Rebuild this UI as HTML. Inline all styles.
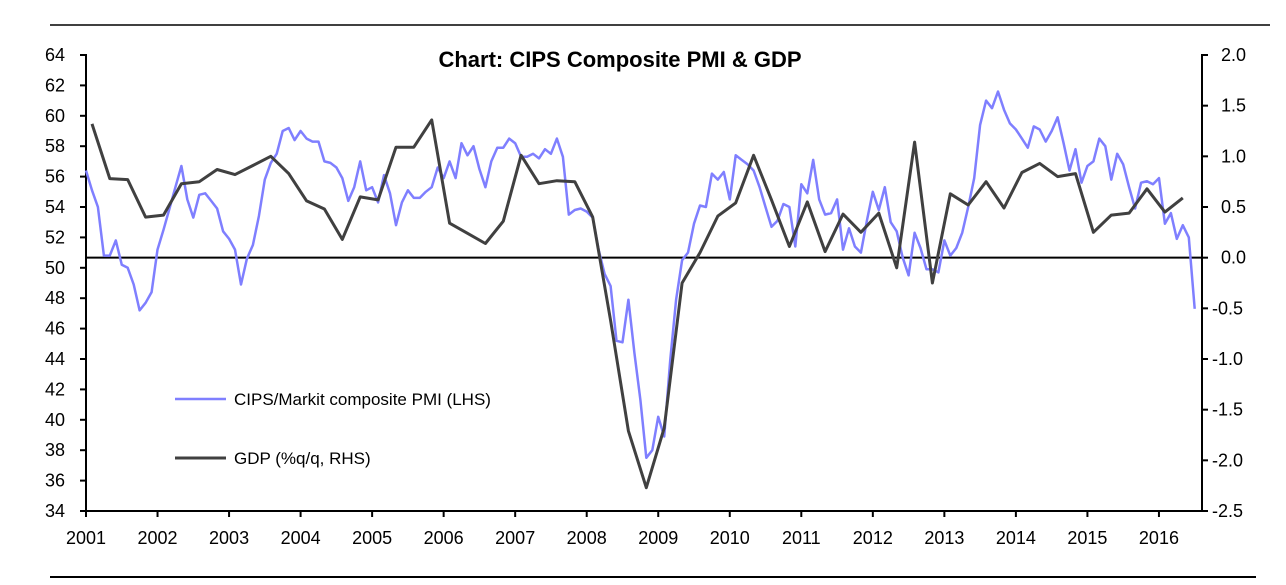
<!DOCTYPE html>
<html><head><meta charset="utf-8"><style>
body{margin:0;background:#fff;width:1286px;height:580px;overflow:hidden;font-family:"Liberation Sans",sans-serif}
svg text{font-family:"Liberation Sans",sans-serif}
</style></head><body>
<svg id="chart" width="1286" height="580" xmlns="http://www.w3.org/2000/svg">
<line x1="50" y1="25" x2="1270" y2="25" stroke="#000" stroke-width="1.5"/>
<line x1="50" y1="577" x2="1256" y2="577" stroke="#000" stroke-width="2"/>
<text x="620" y="67" font-size="22" font-weight="bold" text-anchor="middle">Chart: CIPS Composite PMI &amp; GDP</text>
<g id="axes"></g>
<g id="series"></g>
<g>
<line x1="175" y1="399" x2="226" y2="399" stroke="#7f7fff" stroke-width="2.5"/>
<text x="234" y="405" font-size="17">CIPS/Markit composite PMI (LHS)</text>
<line x1="175" y1="458" x2="226" y2="458" stroke="#404040" stroke-width="3"/>
<text x="234" y="464" font-size="17">GDP (%q/q, RHS)</text>
</g>
</svg>
<script>
const years=[2001,2002,2003,2004,2005,2006,2007,2008,2009,2010,2011,2012,2013,2014,2015,2016];
const leftTicks=[34,36,38,40,42,44,46,48,50,52,54,56,58,60,62,64];
const rightTicks=[-2.5,-2.0,-1.5,-1.0,-0.5,0.0,0.5,1.0,1.5,2.0];
const pmi=[56.4,55.1,54.0,50.8,50.8,51.8,50.2,50.0,48.9,47.2,47.7,48.4,
51.2,52.5,53.9,55.3,56.7,54.5,53.3,54.8,54.9,54.4,53.9,52.4,
51.9,51.2,48.9,50.6,51.5,53.4,55.8,56.9,57.5,59.0,59.2,58.4,
59.0,58.5,58.3,58.3,57.0,56.9,56.6,55.9,54.4,55.3,57.0,55.1,
55.3,54.3,56.1,54.9,52.8,54.3,55.1,54.6,54.6,55.0,55.3,56.6,
55.9,57.0,55.9,58.2,57.4,58.0,56.5,55.3,57.0,57.9,57.9,58.5,
58.2,57.3,57.3,57.5,57.2,57.8,57.5,58.5,57.3,53.5,53.8,53.9,
53.7,53.3,51.2,49.6,48.8,45.2,45.1,47.9,44.4,41.3,37.5,38.0,
40.2,38.9,43.9,47.9,50.5,51.0,52.9,54.1,54.0,56.2,55.8,56.3,
54.5,57.4,57.1,56.8,56.4,55.3,54.0,52.7,53.1,54.2,54.0,51.4,
55.5,54.9,57.1,54.5,53.5,53.6,54.5,51.2,52.6,51.4,51.0,53.1,
55.0,53.8,55.3,53.0,52.4,50.7,49.5,52.3,51.3,49.9,49.9,49.7,
51.8,50.8,51.3,52.3,54.0,55.9,59.4,61.0,60.5,61.6,60.4,59.5,
59.1,58.5,57.9,59.3,59.1,58.3,59.0,59.9,58.2,56.4,57.8,55.6,
56.7,57.0,58.5,58.0,55.8,57.5,56.8,55.3,53.9,55.6,55.7,55.5,
55.9,52.9,53.6,51.9,52.8,52.0,47.3];
const gdp=[1.32,0.78,0.77,0.40,0.42,0.73,0.75,0.87,0.82,0.91,1.00,0.83,0.56,0.48,0.18,0.60,0.57,1.09,1.09,1.36,0.34,0.24,0.14,0.36,1.01,0.73,0.76,0.75,0.40,-0.62,-1.71,-2.27,-1.68,-0.25,0.05,0.41,0.54,1.01,0.57,0.11,0.55,0.06,0.43,0.25,0.44,-0.10,1.14,-0.25,0.63,0.52,0.75,0.49,0.84,0.93,0.80,0.83,0.25,0.42,0.44,0.68,0.45,0.59];

const NS="http://www.w3.org/2000/svg";
const X0=86,YEARPX=71.53,LEFT=86,RIGHT=1202,TOP=55,BOT=511;
const xMonth=k=>X0+k*YEARPX/12;
const xYear=y=>X0+(y-2001)*YEARPX;
const yL=v=>TOP+(64-v)*(BOT-TOP)/30;
const yR=v=>TOP+(2-v)*(BOT-TOP)/4.5;
function mk(tag,attrs,parent){const e=document.createElementNS(NS,tag);for(const k in attrs)e.setAttribute(k,attrs[k]);parent.appendChild(e);return e;}
const axes=document.getElementById('axes'),series=document.getElementById('series');
let e;
e=mk('line',{x1:LEFT,y1:TOP-1,x2:LEFT,y2:BOT,stroke:'#000','stroke-width':2},axes);


e=mk('line',{x1:RIGHT,y1:TOP-1,x2:RIGHT,y2:BOT,stroke:'#000','stroke-width':2},axes);


e=mk('line',{x1:LEFT,y1:BOT,x2:RIGHT,y2:BOT,stroke:'#000','stroke-width':2},axes);


leftTicks.forEach(v=>{
 e=mk('line',{x1:LEFT-6,y1:yL(v),x2:LEFT,y2:yL(v),stroke:'#000','stroke-width':2},axes);
 
 
 e=mk('text',{x:LEFT-21,y:yL(v)+6,'font-size':18,'text-anchor':'end'},axes);e.textContent=v;
 
 
});
rightTicks.forEach(v=>{
 e=mk('line',{x1:RIGHT,y1:yR(v),x2:RIGHT+6,y2:yR(v),stroke:'#000','stroke-width':2},axes);
 
 
 e=mk('text',{x:v<0?RIGHT+10:RIGHT+19,y:yR(v)+6,'font-size':18},axes);e.textContent=v.toFixed(1);
 
 
});
years.forEach(y=>{
 e=mk('line',{x1:xYear(y),y1:BOT,x2:xYear(y),y2:BOT+6,stroke:'#000','stroke-width':2},axes);
 
 
 e=mk('text',{x:xYear(y),y:BOT+33,'font-size':18,'text-anchor':'middle'},axes);e.textContent=y;
 
 
});
e=mk('line',{x1:LEFT,y1:yR(0),x2:RIGHT,y2:yR(0),stroke:'#000','stroke-width':2},axes);


e=mk('polyline',{points:pmi.map((v,k)=>xMonth(k).toFixed(1)+','+yL(v).toFixed(1)).join(' '),fill:'none',stroke:'#7f7fff','stroke-width':2.5,'stroke-linejoin':'round'},series);


e=mk('polyline',{points:gdp.map((v,q)=>xMonth(3*q+1).toFixed(1)+','+yR(v).toFixed(1)).join(' '),fill:'none',stroke:'#404040','stroke-width':3,'stroke-linejoin':'round'},series);


</script>
</body></html>
